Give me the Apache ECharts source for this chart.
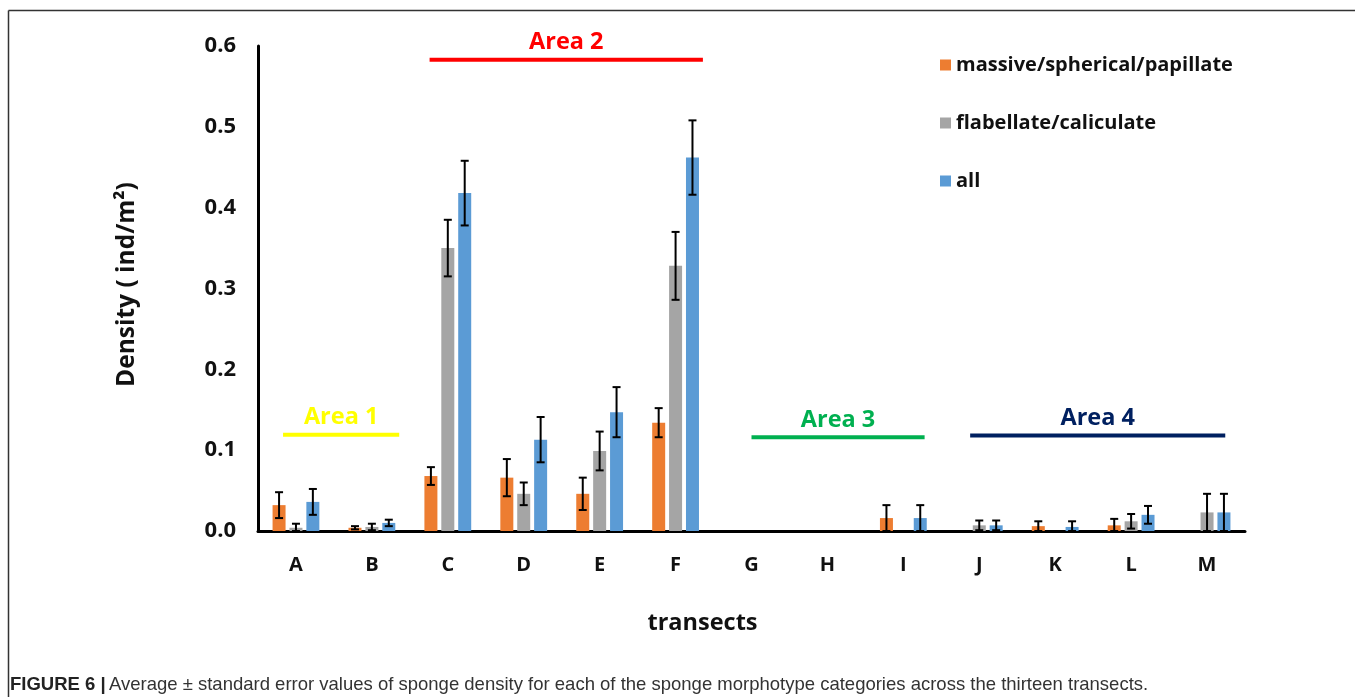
<!DOCTYPE html>
<html>
<head>
<meta charset="utf-8">
<script src="https://cdn.jsdelivr.net/npm/echarts@6/dist/echarts.min.js"></script>
<style>
html,body{margin:0;padding:0;background:#fff;}
#chart{width:1355px;height:697px;}
</style>
</head>
<body>
<div id="chart"></div>
<script>
// ---- data ----
const categories = ['A','B','C','D','E','F','G','H','I','J','K','L','M'];
const massive      = [0.032,0.004,0.068,0.066,0.046,0.134,0,0,0.016,0,0.006,0.007,0];
const massiveSE    = [0.016,0.002,0.011,0.023,0.020,0.018,0,0,0.016,0,0.006,0.008,0];
const flabellate   = [0.004,0.005,0.350,0.046,0.099,0.328,0,0,0,0.007,0,0.012,0.023];
const flabellateSE = [0.005,0.004,0.035,0.014,0.024,0.042,0,0,0,0.006,0,0.009,0.023];
const allVals      = [0.036,0.010,0.418,0.113,0.147,0.462,0,0,0.016,0.007,0.005,0.020,0.023];
const allSE        = [0.016,0.004,0.040,0.028,0.031,0.046,0,0,0.016,0.006,0.007,0.011,0.023];
const seriesNames  = ['massive/spherical/papillate','flabellate/caliculate','all'];
const areaLabels   = ['Area 1','Area 2','Area 3','Area 4'];
const areaLevels   = [0.119, 0.583, 0.116, 0.118];
const yTicks       = [0, 0.1, 0.2, 0.3, 0.4, 0.5, 0.6];

// ---- styling / layout ----
const colors = ['#ED7D31','#A5A5A5','#5B9BD5'];
const areaColors = ['#FFFF00','#FF0000','#00B050','#002060'];
// spans in category units: [fromIndex + offset, toIndex + offset]
const areaSpans = [[0-0.17, 1+0.36],[2-0.24, 5+0.36],[6+0.0, 8+0.28],[9-0.12, 12+0.24]];
const FONT = '"Open Sans", Lato, sans-serif';
const BAR_W = 13, BAR_GAP = 0.3;
const step = BAR_W * (1 + BAR_GAP);

const chart = echarts.init(document.getElementById('chart'));

function errSeries(vals, ses, offset) {
  return {
    type: 'custom',
    silent: true,
    z: 5,
    data: vals.map((v, i) => [i, v, ses[i]]),
    encode: { x: 0, y: 1 },
    renderItem: function (params, api) {
      const i = api.value(0), v = api.value(1), se = api.value(2);
      if (!se) return;
      const x = api.coord([i, v])[0] + offset;
      const yt = api.coord([i, v + se])[1];
      const yb = api.coord([i, Math.max(0, v - se)])[1];
      const st = { stroke: '#000', lineWidth: 2 };
      return {
        type: 'group',
        children: [
          { type: 'line', shape: { x1: x, y1: yt, x2: x, y2: yb }, style: st },
          { type: 'line', shape: { x1: x - 4, y1: yt, x2: x + 4, y2: yt }, style: st },
          { type: 'line', shape: { x1: x - 4, y1: yb, x2: x + 4, y2: yb }, style: st }
        ]
      };
    }
  };
}

const barVals = [massive, flabellate, allVals];
const barSEs = [massiveSE, flabellateSE, allSE];

const option = {
  animation: false,
  backgroundColor: '#fff',
  grid: { left: 258, right: 110, top: 46, bottom: 166, containLabel: false },
  legend: {
    data: seriesNames,
    orient: 'vertical',
    left: 935,
    top: 49,
    itemWidth: 11,
    itemHeight: 11,
    itemGap: 36,
    icon: 'rect',
    textStyle: { fontFamily: FONT, fontWeight: 'bold', fontSize: 20, color: '#111', lineHeight: 22 }
  },
  xAxis: {
    type: 'category',
    data: categories,
    name: 'transects',
    nameLocation: 'middle',
    nameGap: 80,
    nameTextStyle: { fontFamily: FONT, fontWeight: 'bold', fontSize: 23.5, color: '#111', padding: [0, 98, 0, 0] },
    axisLine: { lineStyle: { color: '#000', width: 3 } },
    axisTick: { show: false },
    axisLabel: { fontFamily: FONT, fontWeight: 'bold', fontSize: 20, color: '#111', margin: 24 }
  },
  yAxis: {
    type: 'value',
    min: yTicks[0],
    max: yTicks[yTicks.length - 1],
    interval: 0.1,
    name: 'Density ( ind/m²)',
    nameLocation: 'middle',
    nameGap: 118,
    nameTextStyle: { fontFamily: FONT, fontWeight: 'bold', fontSize: 24.5, color: '#111', padding: [0, 0, 0, 8] },
    axisLine: { show: true, lineStyle: { color: '#000', width: 3 } },
    axisTick: { show: false },
    splitLine: { show: false },
    axisLabel: {
      fontFamily: FONT, fontWeight: 'bold', fontSize: 22, color: '#111', margin: 22,
      formatter: v => v.toFixed(1)
    }
  },
  series: [
    ...barVals.map((vals, k) => ({
      name: seriesNames[k],
      type: 'bar',
      barWidth: BAR_W,
      barGap: (BAR_GAP * 100) + '%',
      itemStyle: { color: colors[k] },
      data: vals
    })),
    ...barVals.map((vals, k) => errSeries(vals, barSEs[k], (k - 1) * step))
  ]
};

chart.setOption(option);

// annotations: area lines and labels, and figure frame + caption
function catPix(pos) {
  const p0 = chart.convertToPixel({ xAxisIndex: 0 }, 0);
  const p1 = chart.convertToPixel({ xAxisIndex: 0 }, 1);
  return p0 + pos * (p1 - p0);
}
const graphics = [];
areaLabels.forEach((lab, k) => {
  const x1 = catPix(areaSpans[k][0]);
  const x2 = catPix(areaSpans[k][1]);
  const y = chart.convertToPixel({ yAxisIndex: 0 }, areaLevels[k]);
  graphics.push({
    type: 'line', shape: { x1: x1, y1: y, x2: x2, y2: y },
    style: { stroke: areaColors[k], lineWidth: 4 }, z: 10
  });
  graphics.push({
    type: 'text', x: (x1 + x2) / 2, y: y - 17,
    style: { text: lab, fill: areaColors[k], font: 'bold 23.5px ' + FONT, textAlign: 'center', textVerticalAlign: 'middle' },
    z: 10
  });
});
// figure frame
graphics.push({ type: 'line', shape: { x1: 8.5, y1: 10.5, x2: 1355, y2: 10.5 }, style: { stroke: '#333', lineWidth: 1.5 } });
graphics.push({ type: 'line', shape: { x1: 8.5, y1: 10.5, x2: 8.5, y2: 697 }, style: { stroke: '#333', lineWidth: 1.5 } });
// caption
graphics.push({
  type: 'text', x: 10, y: 685,
  style: {
    text: '{b|FIGURE 6 |} {n|Average ± standard error values of sponge density for each of the sponge morphotype categories across the thirteen transects.}',
    textVerticalAlign: 'middle',
    rich: {
      b: { font: 'bold 18.5px "Liberation Sans", Arial, sans-serif', fill: '#222' },
      n: { font: '18.5px "Liberation Sans", Arial, sans-serif', fill: '#333' }
    }
  }
});
chart.setOption({ graphic: graphics });
</script>
</body>
</html>
